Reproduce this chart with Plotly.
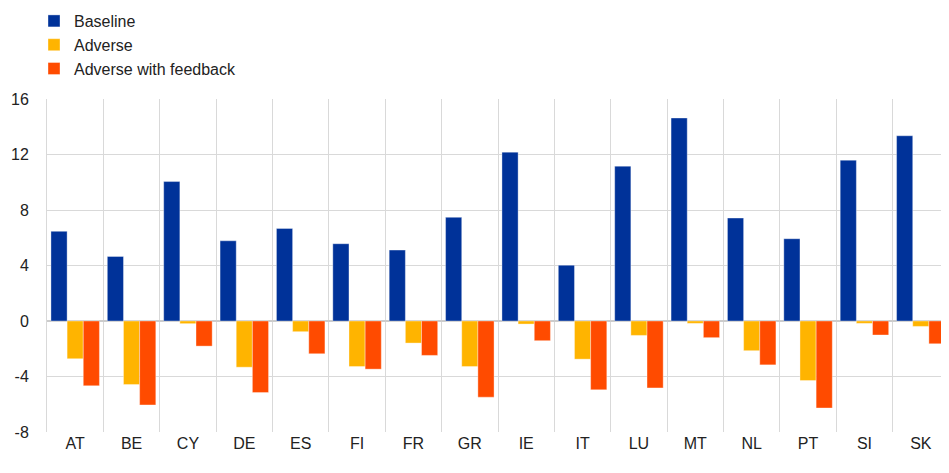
import plotly.graph_objects as go

categories = ["AT", "BE", "CY", "DE", "ES", "FI", "FR", "GR", "IE", "IT", "LU", "MT", "NL", "PT", "SI", "SK"]
baseline = [6.46, 4.65, 10.05, 5.78, 6.67, 5.57, 5.11, 7.47, 12.17, 4.02, 11.16, 14.63, 7.42, 5.93, 11.59, 13.35]
adverse = [-2.72, -4.58, -0.19, -3.33, -0.77, -3.28, -1.59, -3.28, -0.22, -2.75, -1.04, -0.17, -2.14, -4.29, -0.17, -0.39]
adverse_fb = [-4.67, -6.05, -1.81, -5.16, -2.36, -3.47, -2.48, -5.49, -1.42, -4.96, -4.82, -1.20, -3.16, -6.27, -1.01, -1.64]
y_ticks = [-8, -4, 0, 4, 8, 12, 16]

series = [
    ("Baseline", baseline, "#003299"),
    ("Adverse", adverse, "#FFB400"),
    ("Adverse with feedback", adverse_fb, "#FF4B00"),
]

fig = go.Figure()
for name, vals, col in series:
    fig.add_trace(go.Bar(
        x=categories, y=vals, name=name,
        marker=dict(color=col, line=dict(width=0.6, color="rgba(255,255,255,0.6)")),
    ))

# the page body has an 8px margin, so the figure is sized/offset to compensate
fig.update_layout(
    width=941, height=465,
    template="none",
    barmode="group",
    bargap=0.14,
    bargroupgap=0,
    plot_bgcolor="white",
    paper_bgcolor="white",
    font=dict(family="Liberation Sans, Arial, sans-serif", size=16, color="#222222"),
    margin=dict(l=39, r=0, t=91, b=41, autoexpand=False),
    legend=dict(
        x=-0.0144, xanchor="left", y=1.039, yanchor="bottom",
        orientation="v", bgcolor="rgba(0,0,0,0)",
        font=dict(size=16, color="#222222"),
        itemclick=False,
    ),
    xaxis=dict(
        type="category",
        tickson="boundaries",
        showgrid=True, gridcolor="#d9d9d9", gridwidth=1,
        ticks="", showline=False, zeroline=False,
        tickfont=dict(size=16),
    ),
    yaxis=dict(
        range=[-8, 16],
        tickvals=y_ticks,
        ticktext=[str(v) for v in y_ticks],
        showgrid=True, gridcolor="#d9d9d9", gridwidth=1,
        zeroline=True, zerolinecolor="#cccccc", zerolinewidth=1.5,
        showline=True, linecolor="#d9d9d9", linewidth=1,
        ticks="",
        ticklabelstandoff=14,
        tickfont=dict(size=16),
    ),
)

fig.write_html("out.html")
